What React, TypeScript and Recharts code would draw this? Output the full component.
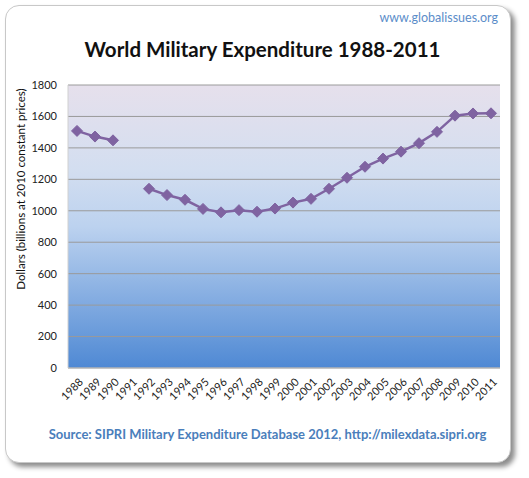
import React from "react";
import { LineChart, Line, XAxis, YAxis, CartesianGrid } from "recharts";

const years = [
  "1988", "1989", "1990", "1991", "1992", "1993", "1994", "1995", "1996", "1997", "1998", "1999",
  "2000", "2001", "2002", "2003", "2004", "2005", "2006", "2007", "2008", "2009", "2010", "2011",
];
const spending: (number | null)[] = [
  1508, 1472, 1448, null, 1140, 1100, 1070, 1012, 990, 1004, 994, 1014,
  1052, 1076, 1140, 1210, 1280, 1332, 1376, 1430, 1502, 1605, 1619, 1620,
];
const yTicks = [0, 200, 400, 600, 800, 1000, 1200, 1400, 1600, 1800];

const data = years.map((y, i) => ({ year: y, value: spending[i] }));

const FONT = "Lato, 'Open Sans', sans-serif";

const Diamond = (props: any) => {
  const { cx, cy, value } = props;
  if (value == null || cx == null || cy == null) return null;
  const r = 5.5;
  return (
    <polygon
      points={`${cx},${cy - r} ${cx + r},${cy} ${cx},${cy + r} ${cx - r},${cy}`}
      fill="#7f63a1"
      stroke="#7f63a1"
      strokeWidth={1}
    />
  );
};

const XTick = (props: any) => {
  const { x, y, payload } = props;
  return (
    <g transform={`translate(${x + 4},${y + 4})`}>
      <text
        x={0}
        y={0}
        dy={4}
        textAnchor="end"
        transform="rotate(-45)"
        fontSize={11}
        fontFamily={FONT}
        fill="#222"
      >
        {payload.value}
      </text>
    </g>
  );
};

export default function App() {
  return (
    <div style={{ position: "absolute", left: 0, top: 0, width: 529, height: 478, background: "#fff", fontFamily: FONT }}>
      <div
        style={{
          position: "absolute",
          left: 5,
          top: 5,
          width: 504,
          height: 456,
          border: "1px solid #c8c8c8",
          borderRadius: 14,
          background: "#fff",
          boxShadow: "4px 4px 5px rgba(0,0,0,0.45)",
        }}
      />
      <div style={{ position: "absolute", right: 31, top: 10, fontSize: 12.5, color: "#5b8dc9" }}>
        www.globalissues.org
      </div>
      <div
        style={{
          position: "absolute",
          left: 0,
          width: 525,
          top: 37,
          textAlign: "center",
          fontSize: 20.5,
          fontWeight: 700,
          color: "#111",
        }}
      >
        World Military Expenditure 1988-2011
      </div>
      <div
        style={{
          position: "absolute",
          left: 20,
          top: 189,
          transform: "translate(-50%, -50%) rotate(-90deg)",
          whiteSpace: "nowrap",
          fontSize: 11.5,
          color: "#111",
        }}
      >
        Dollars (billions at 2010 constant prices)
      </div>
      <div
        style={{
          position: "absolute",
          left: 0,
          width: 535,
          top: 426,
          textAlign: "center",
          fontSize: 13,
          fontWeight: 700,
          color: "#4a7ebb",
        }}
      >
        Source: SIPRI Military Expenditure Database 2012, http://milexdata.sipri.org
      </div>
      <div style={{ position: "absolute", left: 0, top: 0 }}>
        <LineChart width={529} height={478} data={data} margin={{ top: 85, right: 29, bottom: 0, left: 0 }}>
          <defs>
            <linearGradient id="bg" x1="0" y1="0" x2="0" y2="1">
              <stop offset="0" stopColor="#e6e0ec" />
              <stop offset="0.3" stopColor="#d3def0" />
              <stop offset="0.5" stopColor="#bcd2ef" />
              <stop offset="1" stopColor="#4f89d4" />
            </linearGradient>
          </defs>
          <CartesianGrid vertical={false} stroke="#9a9a9a" strokeWidth={1} fill="url(#bg)" fillOpacity={1} />
          <XAxis
            dataKey="year"
            interval={0}
            tick={<XTick />}
            tickLine={false}
            axisLine={{ stroke: "#c0c0c0" }}
            height={110}
            padding={{ left: 9, right: 9 }}
          />
          <YAxis
            domain={[0, 1800]}
            ticks={yTicks}
            width={68}
            tickLine={false}
            axisLine={{ stroke: "#d0d0d0" }}
            tick={{ fontSize: 11, fontFamily: FONT, fill: "#222" }}
            tickMargin={5}
          />
          <Line
            type="linear"
            dataKey="value"
            stroke="#7f63a1"
            strokeWidth={2.5}
            dot={<Diamond />}
            activeDot={false}
            connectNulls={false}
            isAnimationActive={false}
          />
        </LineChart>
      </div>
    </div>
  );
}
